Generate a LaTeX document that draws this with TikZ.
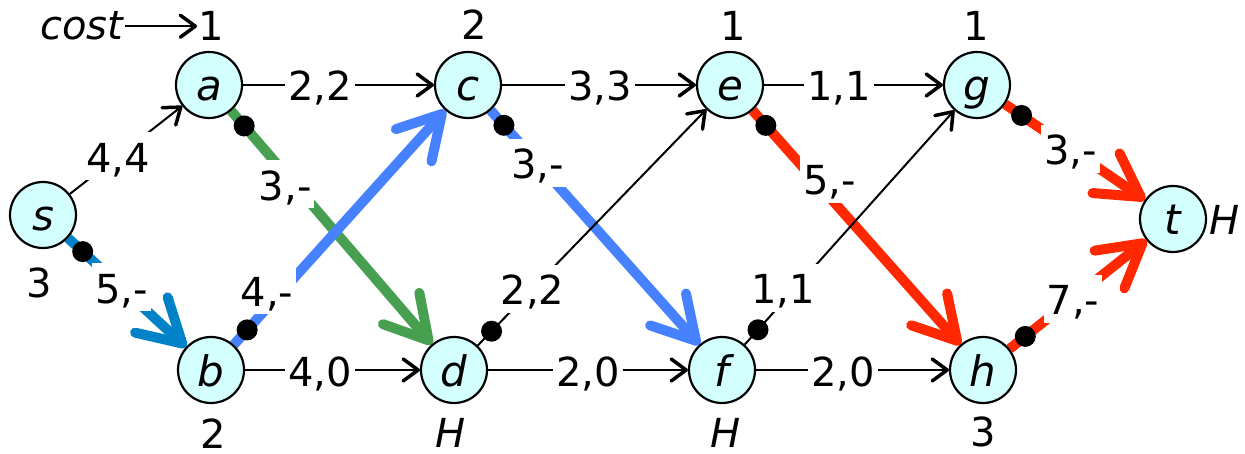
\documentclass[tikz,border=0pt]{standalone}
\usepackage{fontspec}
\setmainfont{DejaVu Sans}
\usetikzlibrary{arrows.meta,calc}
\pgfdeclarelayer{bg}
\pgfsetlayers{bg,main}
\definecolor{cyfill}{RGB}{212,255,255}
\definecolor{dblu}{RGB}{0,130,200}
\definecolor{blu}{RGB}{70,130,255}
\definecolor{grn}{RGB}{70,160,80}
\definecolor{rd}{RGB}{255,40,0}
\newcommand\labfont{\fontsize{40}{48}\selectfont}
\newcommand\vtxfont{\fontsize{42}{50}\selectfont\itshape}
\begin{document}
\begin{tikzpicture}[x=1pt,y=-1pt,
  vtx/.style={circle,draw=black,line width=2.2pt,fill=cyfill,minimum size=66pt,inner sep=0pt,
    font=\vtxfont,text height=32pt,text depth=0pt},
  lab/.style={fill=white,font=\labfont,inner xsep=3pt,inner ysep=4pt,text height=36pt,text depth=4pt},
  cst/.style={font=\labfont,inner sep=1pt,anchor=base},
  blk/.style={draw=black,line width=2pt,-{Straight Barb[length=15pt,width=22pt,line width=3.5pt 0,round]}},
  fat/.style={line width=10pt,-{Straight Barb[length=42pt,width=48pt,round]}},
  blob/.style={circle,fill=black,minimum size=21pt,inner sep=0pt}]
\useasboundingbox (0,0) rectangle (1245,454);
% vertices
\node[vtx] (s) at (43,215) {s};
\node[vtx] (a) at (209,85) {a};
\node[vtx] (b) at (211,370) {b};
\node[vtx] (c) at (468,85) {c};
\node[vtx] (d) at (454,370) {d};
\node[vtx] (e) at (730,85) {e};
\node[vtx] (f) at (722,370) {f};
\node[vtx] (g) at (977,85) {g};
\node[vtx] (h) at (983,370) {h};
\node[vtx] (t) at (1173,219) {t};
% cost labels
\node[cst] (ca) at ($(a)+(2,-44)$) {1};
\node[cst] (cs) at ($(s)+(-4,83)$) {3};
\node[cst] (cb) at ($(b)+(2,78)$) {2};
\node[cst] (cc) at ($(c)+(6,-45)$) {2};
\node[cst] (cd) at ($(d)+(-3,77)$) {\itshape H};
\node[cst] (ce) at ($(e)+(3,-44)$) {1};
\node[cst] (cf) at ($(f)+(4,77)$) {\itshape H};
\node[cst] (cg) at ($(g)+(-1,-44)$) {1};
\node[cst] (ch) at ($(h)+(0,76)$) {3};
\node[cst] (ct) at ($(t)+(52,16)$) {\itshape H};
\node[cst] (cost) at (82,40) {\itshape cost};
\draw[blk] (cost.east) -- (cost.east -| ca.west);
% edges
\begin{pgfonlayer}{bg}
\draw[fat,draw=grn] (a) -- node[lab,pos=0.294,xshift=-5pt,yshift=-5pt] {3,-} (d);
\draw[fat,draw=blu] (b) -- node[lab,pos=0.199,xshift=-9pt,yshift=8pt] {4,-} (c);
\draw[fat,draw=blu] (c) -- node[lab,pos=0.224] {3,-} (f);
\draw[fat,draw=rd] (e) -- node[lab,pos=0.326,xshift=9pt,yshift=8pt] {5,-} (h);
\draw[fat,draw=rd] (g) -- node[lab,pos=0.468] {3,-} (t);
\draw[fat,draw=rd] (h) -- node[lab,pos=0.463] {7,-} (t);
\draw[fat,draw=dblu] (s) -- node[lab,pos=0.454] {5,-} (b);
\draw[blk] (s) -- node[lab,pos=0.43] {4,4} (a);
\draw[blk] (a) -- node[lab,pos=0.404] {2,2} (c);
\draw[blk] (c) -- node[lab,pos=0.505] {3,3} (e);
\draw[blk] (e) -- node[lab,pos=0.42] {1,1} (g);
\draw[blk] (b) -- node[lab,pos=0.43] {4,0} (d);
\draw[blk] (d) -- node[lab,pos=0.5] {2,0} (f);
\draw[blk] (f) -- node[lab,pos=0.45] {2,0} (h);
\draw[blk] (d) -- node[lab,pos=0.24] {2,2} (e);
\draw[blk] (f) -- node[lab,pos=0.217,xshift=-7pt,yshift=6pt] {1,1} (g);
\end{pgfonlayer}
% dots
\node[blob] (ds) at ($(s)!54pt!(b)$) {};
\node[blob] (da) at ($(a)!54pt!(d)$) {};
\node[blob] (db) at ($(b)!54pt!(c)$) {};
\node[blob] (dc) at ($(c)!54pt!(f)$) {};
\node[blob] (dd) at ($(d)!54pt!(e)$) {};
\node[blob] (de) at ($(e)!54pt!(h)$) {};
\node[blob] (df) at ($(f)!54pt!(g)$) {};
\node[blob] (dg) at ($(g)!54pt!(t)$) {};
\node[blob] (dh) at ($(h)!54pt!(t)$) {};
\end{tikzpicture}
\end{document}
